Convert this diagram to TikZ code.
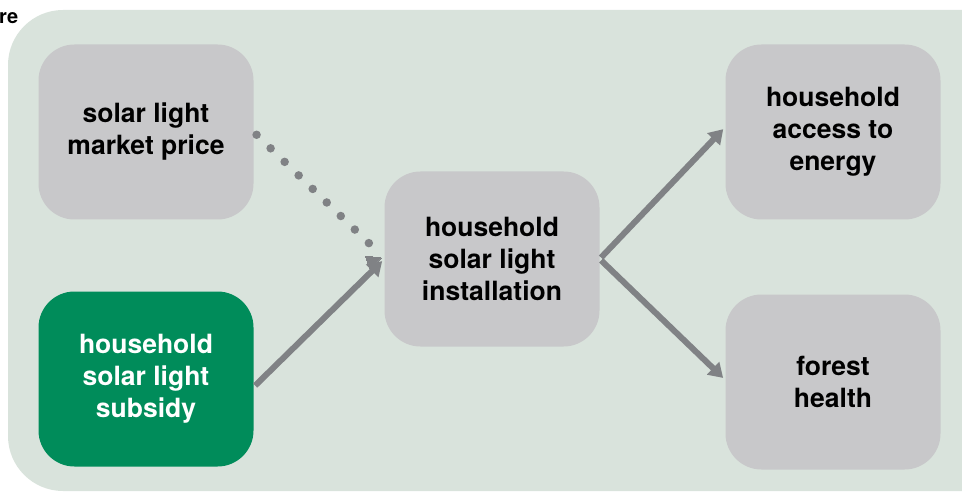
\documentclass[tikz,border=0pt]{standalone}
\usepackage{fontspec}
\setmainfont{TeX Gyre Heros}
\usetikzlibrary{arrows.meta}
\definecolor{panelgreen}{HTML}{D9E3DC}
\definecolor{boxgray}{HTML}{C8C8CA}
\definecolor{subsidygreen}{HTML}{008C5A}
\definecolor{arrowgray}{HTML}{808285}
\tikzset{
  factor/.style={fill=boxgray,rounded corners=36pt,minimum width=215pt,minimum height=175pt,
    align=center,font=\bfseries\fontsize{26.5}{32}\selectfont,inner sep=0pt},
  link/.style={draw=arrowgray,line width=6pt,-{Triangle[length=14pt,width=17pt]},shorten <=2pt,shorten >=3pt},
  dots/.style={draw=arrowgray,line width=8.5pt,line cap=round,dash pattern=on 0pt off 19.5pt,shorten <=4pt,shorten >=14pt}
}
\begin{document}
\begin{tikzpicture}[x=1pt,y=-1pt]
				\useasboundingbox (0,0) rectangle (962,492);
				\clip (0,0) rectangle (962,492);
				\fill[panelgreen,rounded corners=55pt] (8,10) rectangle (1030,491);
				\node[anchor=west,font=\bfseries\fontsize{20}{24}\selectfont,inner sep=0pt] (fig) at (-1,18) {re};
				
				\node[factor] (price) at (146,132) {solar light\\market price};
				\node[factor,fill=subsidygreen,text=white] (subsidy) at (146,379) {household\\solar light\\subsidy};
				\node[factor] (install) at (492,259) {household\\solar light\\installation};
				\node[factor] (access) at (833,132) {household\\access to\\energy};
				\node[factor] (forest) at (833,382) {forest\\health};
				
				\draw[dots] (price.east) -- ([yshift=1pt]install.west);
				\draw[arrowgray,line width=0pt,fill=arrowgray] ([xshift=-3pt,yshift=1pt]install.west) -- ++(-16pt,2pt) -- ++(5pt,-13pt) -- cycle;
				\draw[link] ([yshift=-8pt]subsidy.east) -- (install.west);
				\draw[link] (install.east) -- ([yshift=5pt]access.west);
				\draw[link] (install.east) -- ([yshift=2pt]forest.west);
			\end{tikzpicture}
\end{document}
